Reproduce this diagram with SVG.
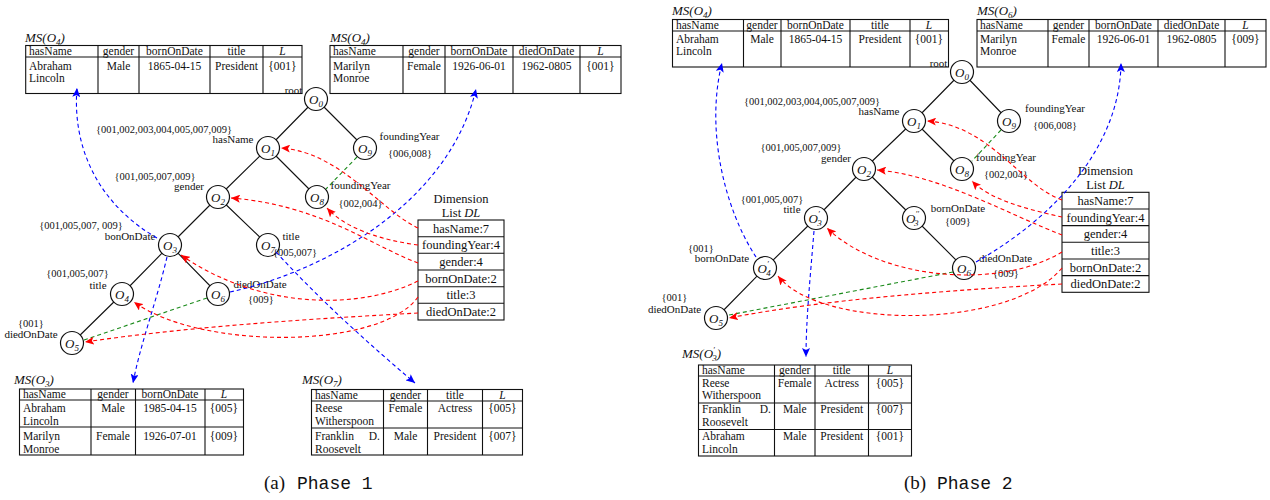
<svg xmlns="http://www.w3.org/2000/svg" width="1270" height="500" viewBox="0 0 1270 500">
<style>
text{font-family:"Liberation Serif","DejaVu Serif",serif;fill:#111}
.t{font-size:11.5px}
.c{text-anchor:middle}
.lb{font-size:11px;text-anchor:middle}
.st{font-size:10.5px;text-anchor:middle}
.ms{font-size:13px;font-style:italic}
.on{font-size:13px;font-style:italic}
.sub{font-size:9px;font-style:italic}
.it{font-style:italic}
.dl{font-size:12.5px;text-anchor:middle}
.tb{fill:none;stroke:#111;stroke-width:1.1}
.edge{stroke:#111;stroke-width:1.1}
.node circle{fill:#fff;stroke:#111;stroke-width:1.2}
.r,.b,.g{fill:none;stroke-width:1.1;stroke-dasharray:4 3}
.r{stroke:#f00;marker-end:url(#ar)}
.b{stroke:#00f;marker-end:url(#ab)}
.g{stroke:#1a8a1a}
.cap{font-size:19px}
.capm{font-family:"Liberation Mono",monospace;font-size:18px}
</style>
<defs>
<marker id="ar" markerWidth="10" markerHeight="8" refX="9" refY="4" orient="auto" markerUnits="userSpaceOnUse"><path d="M0,0 L9,4 L0,8 L2,4 z" fill="#f00"/></marker>
<marker id="ab" markerWidth="10" markerHeight="8" refX="9" refY="4" orient="auto" markerUnits="userSpaceOnUse"><path d="M0,0 L9,4 L0,8 L2,4 z" fill="#00f"/></marker>
</defs>
<rect width="1270" height="500" fill="#fff"/>

<!-- ============ PHASE 1 ============ -->
<g id="a-ms-o4-1">
<text class="ms" x="25" y="41.5">MS(O<tspan class="sub" dy="3">4</tspan><tspan dy="-3">)</tspan></text>
<rect class="tb" x="25.7" y="45.5" width="276.3" height="48"/>
<path class="tb" d="M25.7,57H302M98,45.5V93.5M139,45.5V93.5M210,45.5V93.5M263,45.5V93.5"/>
<g class="t"><text x="29" y="55">hasName</text><text class="c" x="118.5" y="55">gender</text><text class="c" x="174.5" y="55">bornOnDate</text><text class="c" x="236.5" y="55">title</text><text class="c it" x="282.5" y="55">L</text>
<text x="29" y="69.5">Abraham</text><text x="29" y="81.5">Lincoln</text><text class="c" x="118.5" y="69.5">Male</text><text class="c" x="174.5" y="69.5">1865-04-15</text><text class="c" x="236.5" y="69.5">President</text><text class="c" x="282.5" y="69.5">{001}</text></g>
</g>

<g id="a-ms-o4-2">
<text class="ms" x="330" y="41.5">MS(O<tspan class="sub" dy="3">4</tspan><tspan dy="-3">)</tspan></text>
<rect class="tb" x="330" y="45.5" width="291" height="48"/>
<path class="tb" d="M330,57H621M403,45.5V93.5M445,45.5V93.5M513,45.5V93.5M580,45.5V93.5"/>
<g class="t"><text x="333" y="55">hasName</text><text class="c" x="424" y="55">gender</text><text class="c" x="479" y="55">bornOnDate</text><text class="c" x="546.5" y="55">diedOnDate</text><text class="c it" x="600.5" y="55">L</text>
<text x="333" y="69.5">Marilyn</text><text x="333" y="81.5">Monroe</text><text class="c" x="424" y="69.5">Female</text><text class="c" x="479" y="69.5">1926-06-01</text><text class="c" x="546.5" y="69.5">1962-0805</text><text class="c" x="600.5" y="69.5">{001}</text></g>
</g>

<g id="a-ms-o3">
<text class="ms" x="14" y="384">MS(O<tspan class="sub" dy="3">3</tspan><tspan dy="-3">)</tspan></text>
<rect class="tb" x="19.5" y="389" width="224" height="66"/>
<path class="tb" d="M19.5,400H243.5M19.5,427H243.5M91,389V455M135.5,389V455M205,389V455"/>
<g class="t"><text x="23" y="398">hasName</text><text class="c" x="113" y="398">gender</text><text class="c" x="170" y="398">bornOnDate</text><text class="c it" x="224" y="398">L</text>
<text x="23" y="411.5">Abraham</text><text x="23" y="424.5">Lincoln</text><text class="c" x="113" y="411.5">Male</text><text class="c" x="170" y="411.5">1985-04-15</text><text class="c" x="224" y="411.5">{005}</text>
<text x="23" y="439.5">Marilyn</text><text x="23" y="452.5">Monroe</text><text class="c" x="113" y="439.5">Female</text><text class="c" x="170" y="439.5">1926-07-01</text><text class="c" x="224" y="439.5">{009}</text></g>
</g>

<g id="a-ms-o7">
<text class="ms" x="302" y="384">MS(O<tspan class="sub" dy="3">7</tspan><tspan dy="-3">)</tspan></text>
<rect class="tb" x="311.5" y="389.5" width="211" height="65.5"/>
<path class="tb" d="M311.5,401H522.5M311.5,428H522.5M383.5,389.5V455M427.5,389.5V455M482.5,389.5V455"/>
<g class="t"><text x="315" y="398.5">hasName</text><text class="c" x="405.5" y="398.5">gender</text><text class="c" x="455" y="398.5">title</text><text class="c it" x="502.5" y="398.5">L</text>
<text x="315" y="412">Reese</text><text x="315" y="425">Witherspoon</text><text class="c" x="405.5" y="412">Female</text><text class="c" x="455" y="412">Actress</text><text class="c" x="502.5" y="412">{005}</text>
<text x="315" y="439.5">Franklin</text><text x="380" y="439.5" text-anchor="end">D.</text><text x="315" y="452.5">Roosevelt</text><text class="c" x="405.5" y="439.5">Male</text><text class="c" x="455" y="439.5">President</text><text class="c" x="502.5" y="439.5">{007}</text></g>
</g>

<g id="a-edges">
<path class="edge" d="M316,99L268,148M316,99L365,148M268,148L218,197M268,148L317,197M218,197L170,245M218,197L268,245M170,245L122,294M170,245L218,294M122,294L72,343"/>
</g>

<g id="a-O0" class="node"><circle cx="316" cy="99" r="11.5"/><text class="on" x="309" y="103.5">O<tspan class="sub" dy="3">0</tspan></text><text class="lb" x="293.5" y="94">root</text></g>
<g id="a-O1" class="node"><circle cx="268" cy="148" r="11.5"/><text class="on" x="261" y="152.5">O<tspan class="sub" dy="3">1</tspan></text><text class="st" x="164" y="132.5">{001,002,003,004,005,007,009}</text><text class="lb" x="233" y="143">hasName</text></g>
<g id="a-O9" class="node"><circle cx="365" cy="148" r="11.5"/><text class="on" x="358" y="152.5">O<tspan class="sub" dy="3">9</tspan></text><text class="lb" x="409.5" y="140">foundingYear</text><text class="st" x="410" y="157">{006,008}</text></g>
<g id="a-O2" class="node"><circle cx="218" cy="197" r="11.5"/><text class="on" x="211" y="201.5">O<tspan class="sub" dy="3">2</tspan></text><text class="st" x="155" y="179.5">{001,005,007,009}</text><text class="lb" x="189" y="189.5">gender</text></g>
<g id="a-O8" class="node"><circle cx="317" cy="197" r="11.5"/><text class="on" x="310" y="201.5">O<tspan class="sub" dy="3">8</tspan></text><text class="lb" x="360.5" y="189">foundingYear</text><text class="st" x="360.5" y="207">{002,004}</text></g>
<g id="a-O3" class="node"><circle cx="170" cy="245" r="11.5"/><text class="on" x="163" y="249.5">O<tspan class="sub" dy="3">3</tspan></text><text class="st" x="81" y="228.5">{001,005,007, 009}</text><text class="lb" x="130" y="240">bonOnDate</text></g>
<g id="a-O7" class="node"><circle cx="268" cy="245" r="11.5"/><text class="on" x="261" y="249.5">O<tspan class="sub" dy="3">7</tspan></text><text class="lb" x="291" y="240">title</text><text class="st" x="295" y="255.5">{005,007}</text></g>
<g id="a-O4" class="node"><circle cx="122" cy="294" r="11.5"/><text class="on" x="115" y="298.5">O<tspan class="sub" dy="3">4</tspan></text><text class="st" x="77.5" y="276.5">{001,005,007}</text><text class="lb" x="98" y="288.5">title</text></g>
<g id="a-O6" class="node"><circle cx="218" cy="294" r="11.5"/><text class="on" x="211" y="298.5">O<tspan class="sub" dy="3">6</tspan></text><text class="lb" x="260" y="288">diedOnDate</text><text class="st" x="261" y="303">{009}</text></g>
<g id="a-O5" class="node"><circle cx="72" cy="343" r="11.5"/><text class="on" x="65" y="347.5">O<tspan class="sub" dy="3">5</tspan></text><text class="st" x="31" y="326.5">{001}</text><text class="lb" x="31" y="337.5">diedOnDate</text></g>

<g id="a-dl">
<text class="dl" x="461" y="203">Dimension</text>
<text class="dl" x="461" y="217">List <tspan class="it">DL</tspan></text>
<rect class="tb" x="418" y="220" width="86" height="100"/>
<path class="tb" d="M418,236.7H504M418,253.3H504M418,270H504M418,286.7H504M418,303.3H504"/>
<text class="dl" x="461" y="232.7">hasName:7</text>
<text class="dl" x="461" y="249.3">foundingYear:4</text>
<text class="dl" x="461" y="266">gender:4</text>
<text class="dl" x="461" y="282.7">bornOnDate:2</text>
<text class="dl" x="461" y="299.3">title:3</text>
<text class="dl" x="461" y="316">diedOnDate:2</text>
</g>

<g id="a-connectors">
<path class="b" d="M157,238 C100,205 72,150 77,88"/>
<path class="b" d="M167,257 C157,300 140,345 133,383"/>
<path class="b" d="M276,252 C320,300 370,345 415,383"/>
<path class="b" d="M230,292 C330,270 450,200 476,89"/>
<path class="g" d="M357,157 L326,189"/>
<path class="g" d="M207,298 L84,340"/>
<path class="r" d="M418,228 C380,210 340,152 281,148"/>
<path class="r" d="M418,245 C380,240 345,228 327,208"/>
<path class="r" d="M418,263 C370,245 320,205 231,198"/>
<path class="r" d="M418,281 C360,310 260,310 181,255"/>
<path class="r" d="M418,297 C380,350 200,350 134,302"/>
<path class="r" d="M418,313 C330,318 200,325 85,342"/>
</g>

<!-- ============ PHASE 2 ============ -->
<g id="b-ms-o4">
<text class="ms" x="672" y="15">MS(O<tspan class="sub" dy="3">4</tspan><tspan dy="-3">)</tspan></text>
<rect class="tb" x="672.5" y="19.5" width="276" height="47.5"/>
<path class="tb" d="M672.5,31H948.5M743.5,19.5V67M781,19.5V67M850,19.5V67M910,19.5V67"/>
<g class="t"><text x="676" y="28.5">hasName</text><text class="c" x="762" y="28.5">gender</text><text class="c" x="815.5" y="28.5">bornOnDate</text><text class="c" x="880" y="28.5">title</text><text class="c it" x="929" y="28.5">L</text>
<text x="676" y="42.5">Abraham</text><text x="676" y="54.5">Lincoln</text><text class="c" x="762" y="42.5">Male</text><text class="c" x="815.5" y="42.5">1865-04-15</text><text class="c" x="880" y="42.5">President</text><text class="c" x="929" y="42.5">{001}</text></g>
</g>

<g id="b-ms-o6">
<text class="ms" x="977" y="15">MS(O<tspan class="sub" dy="3">6</tspan><tspan dy="-3">)</tspan></text>
<rect class="tb" x="977" y="19.5" width="289" height="47.5"/>
<path class="tb" d="M977,31H1266M1048,19.5V67M1089,19.5V67M1158,19.5V67M1225,19.5V67"/>
<g class="t"><text x="980" y="28.5">hasName</text><text class="c" x="1068.5" y="28.5">gender</text><text class="c" x="1123.5" y="28.5">bornOnDate</text><text class="c" x="1191.5" y="28.5">diedOnDate</text><text class="c it" x="1245.5" y="28.5">L</text>
<text x="980" y="42.5">Marilyn</text><text x="980" y="54.5">Monroe</text><text class="c" x="1068.5" y="42.5">Female</text><text class="c" x="1123.5" y="42.5">1926-06-01</text><text class="c" x="1191.5" y="42.5">1962-0805</text><text class="c" x="1245.5" y="42.5">{009}</text></g>
</g>

<g id="b-ms-o3p">
<text class="ms" x="682" y="358">MS(O<tspan font-size="8" dy="-5">′</tspan><tspan class="sub" dx="-2.5" dy="8">3</tspan><tspan dy="-3">)</tspan></text>
<rect class="tb" x="698.5" y="365" width="213" height="91"/>
<path class="tb" d="M698.5,376H911.5M698.5,403H911.5M698.5,429.5H911.5M774.5,365V456M815,365V456M868.5,365V456"/>
<g class="t"><text x="702" y="373.5">hasName</text><text class="c" x="794.75" y="373.5">gender</text><text class="c" x="841.75" y="373.5">title</text><text class="c it" x="890" y="373.5">L</text>
<text x="702" y="386.5">Reese</text><text x="702" y="399">Witherspoon</text><text class="c" x="794.75" y="386.5">Female</text><text class="c" x="841.75" y="386.5">Actress</text><text class="c" x="890" y="386.5">{005}</text>
<text x="702" y="413">Franklin</text><text x="771" y="413" text-anchor="end">D.</text><text x="702" y="425.5">Roosevelt</text><text class="c" x="794.75" y="413">Male</text><text class="c" x="841.75" y="413">President</text><text class="c" x="890" y="413">{007}</text>
<text x="702" y="439.5">Abraham</text><text x="702" y="452.5">Lincoln</text><text class="c" x="794.75" y="439.5">Male</text><text class="c" x="841.75" y="439.5">President</text><text class="c" x="890" y="439.5">{001}</text></g>
</g>

<g id="b-edges">
<path class="edge" d="M962,72L914,121M962,72L1009,121M914,121L864,169M914,121L962,169M864,169L816,218M864,169L914,218M914,218L964,268M816,218L765,268M765,268L716,318"/>
</g>

<g id="b-O0" class="node"><circle cx="962" cy="72" r="11.5"/><text class="on" x="955" y="76.5">O<tspan class="sub" dy="3">0</tspan></text><text class="lb" x="938.5" y="67">root</text></g>
<g id="b-O1" class="node"><circle cx="914" cy="121" r="11.5"/><text class="on" x="907" y="125.5">O<tspan class="sub" dy="3">1</tspan></text><text class="st" x="812" y="104.5">{001,002,003,004,005,007,009}</text><text class="lb" x="879" y="114.5">hasName</text></g>
<g id="b-O9" class="node"><circle cx="1009" cy="121" r="11.5"/><text class="on" x="1002" y="125.5">O<tspan class="sub" dy="3">9</tspan></text><text class="lb" x="1055" y="112">foundingYear</text><text class="st" x="1055" y="129">{006,008}</text></g>
<g id="b-O2" class="node"><circle cx="864" cy="169" r="11.5"/><text class="on" x="857" y="173.5">O<tspan class="sub" dy="3">2</tspan></text><text class="st" x="801" y="150.5">{001,005,007,009}</text><text class="lb" x="836" y="161.5">gender</text></g>
<g id="b-O8" class="node"><circle cx="962" cy="169" r="11.5"/><text class="on" x="955" y="173.5">O<tspan class="sub" dy="3">8</tspan></text><text class="lb" x="1006" y="161">foundingYear</text><text class="st" x="1006" y="178">{002,004}</text></g>
<g id="b-O3p" class="node"><circle cx="816" cy="218" r="11.5"/><text class="on" x="808.5" y="222.5">O<tspan font-size="8" dy="-6">′</tspan><tspan class="sub" dx="-2.5" dy="9">3</tspan></text><text class="st" x="772" y="202.5">{001,005,007}</text><text class="lb" x="792" y="212.5">title</text></g>
<g id="b-O3pp" class="node"><circle cx="914" cy="218" r="11.5"/><text class="on" x="906" y="222.5">O<tspan font-size="8" dy="-6">′′</tspan><tspan class="sub" dx="-5" dy="9">3</tspan></text><text class="lb" x="958" y="212">bornOnDate</text><text class="st" x="958" y="225">{009}</text></g>
<g id="b-O4p" class="node"><circle cx="765" cy="268" r="11.5"/><text class="on" x="757.5" y="272.5">O<tspan font-size="8" dy="-6">′</tspan><tspan class="sub" dx="-2.5" dy="9">4</tspan></text><text class="st" x="701" y="251.5">{001}</text><text class="lb" x="722" y="262">bornOnDate</text></g>
<g id="b-O6" class="node"><circle cx="964" cy="268" r="11.5"/><text class="on" x="957" y="272.5">O<tspan class="sub" dy="3">6</tspan></text><text class="lb" x="1005.5" y="262">diedOnDate</text><text class="st" x="1006" y="277">{009}</text></g>
<g id="b-O5" class="node"><circle cx="716" cy="318" r="11.5"/><text class="on" x="709" y="322.5">O<tspan class="sub" dy="3">5</tspan></text><text class="st" x="674.5" y="300.5">{001}</text><text class="lb" x="674.5" y="312.5">diedOnDate</text></g>

<g id="b-dl">
<text class="dl" x="1105.5" y="175">Dimension</text>
<text class="dl" x="1105.5" y="189">List <tspan class="it">DL</tspan></text>
<rect class="tb" x="1062" y="192.3" width="87" height="100"/>
<path class="tb" d="M1062,209H1149M1062,225.6H1149M1062,242.3H1149M1062,259H1149M1062,275.6H1149"/>
<text class="dl" x="1105.5" y="205">hasName:7</text>
<text class="dl" x="1105.5" y="221.6">foundingYear:4</text>
<text class="dl" x="1105.5" y="238.3">gender:4</text>
<text class="dl" x="1105.5" y="255">title:3</text>
<text class="dl" x="1105.5" y="271.6">bornOnDate:2</text>
<text class="dl" x="1105.5" y="288.3">diedOnDate:2</text>
</g>

<g id="b-connectors">
<path class="b" d="M756,257 C725,210 705,130 722,63"/>
<path class="b" d="M814,231 C810,280 806,320 806,357"/>
<path class="b" d="M976,262 C1050,220 1120,150 1121,63"/>
<path class="g" d="M1001,130 L972,161"/>
<path class="g" d="M953,272 L729,315"/>
<path class="r" d="M1062,200 C1020,185 990,125 927,121"/>
<path class="r" d="M1062,217 C1030,210 990,200 972,181"/>
<path class="r" d="M1062,235 C1010,215 940,175 877,170"/>
<path class="r" d="M1062,252 C1000,290 880,280 827,228"/>
<path class="r" d="M1062,268 C1010,330 820,330 778,276"/>
<path class="r" d="M1062,284 C950,290 820,300 729,318"/>
</g>

<g id="captions">
<text class="cap" x="264" y="489">(a)</text><text class="capm" x="297" y="489">Phase 1</text>
<text class="cap" x="904" y="489">(b)</text><text class="capm" x="937" y="489">Phase 2</text>
</g>
</svg>
